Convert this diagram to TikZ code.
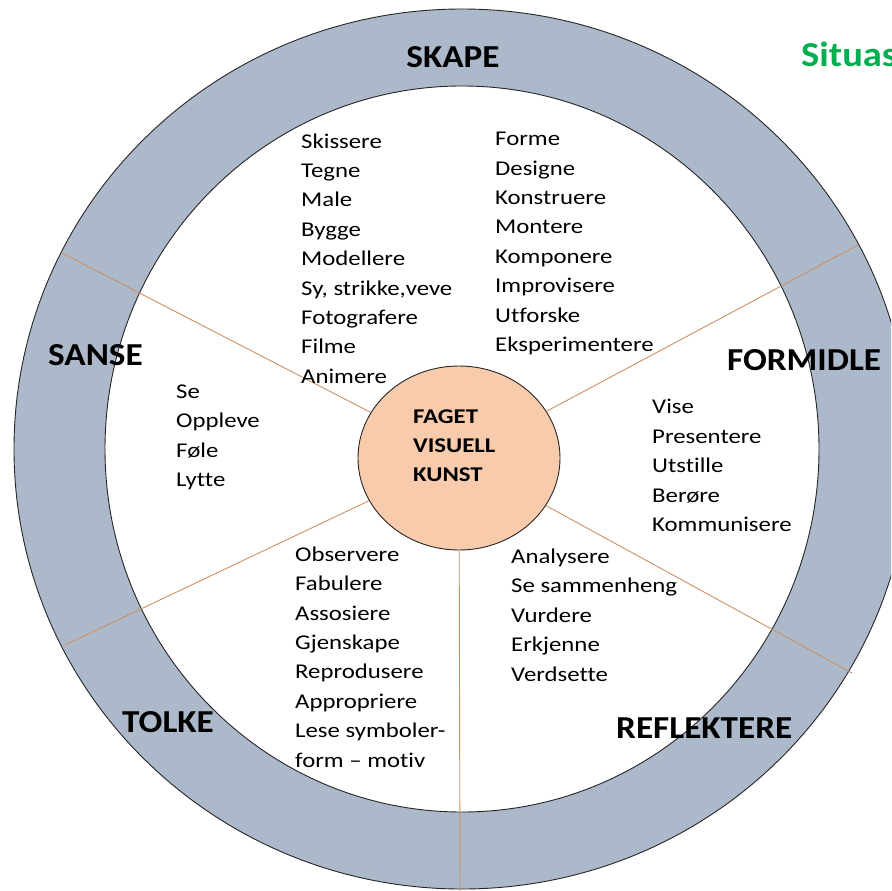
\documentclass[tikz,border=0pt]{standalone}
\usepackage{fontspec}
\setmainfont{Carlito}[FakeStretch=1.1, Ligatures=NoCommon]
\newfontfamily\listefont{Carlito}[FakeStretch=1.18, Ligatures=NoCommon]
\usetikzlibrary{shapes.geometric}
\definecolor{ringgraa}{RGB}{172,185,202}
\definecolor{fersken}{RGB}{248,203,173}
\definecolor{eikefarge}{RGB}{205,145,100}
\definecolor{situasgronn}{RGB}{0,176,80}

\begin{document}
\begin{tikzpicture}[x=1pt, y=-1pt,
    hoved/.style={font=\bfseries\fontsize{32}{36}\selectfont, inner sep=0pt},
    liste/.style={font=\listefont\fontsize{21}{29.4}\selectfont, align=left, anchor=west, inner sep=0pt},
    kant/.style={draw=black!85, line width=0.9pt},
    eike/.style={draw=eikefarge, line width=0.9pt}]
    \useasboundingbox (0,0) rectangle (891,891);
    \clip (0,0) rectangle (891,891);
    % ringen
    \fill[ringgraa, even odd rule] (462,449) ellipse [x radius=448pt, y radius=440pt]
        (462,449) ellipse [x radius=357pt, y radius=363pt];
    \draw[kant] (462,449) ellipse [x radius=448pt, y radius=440pt];
    \draw[kant] (462,449) ellipse [x radius=357pt, y radius=363pt];
    % midten
    \node[ellipse, kant, fill=fersken, minimum width=202pt, minimum height=184pt, inner sep=0pt] (fag) at (459,458) {};
    \node[font=\listefont\bfseries\fontsize{21}{29}\selectfont, align=left, anchor=west, inner sep=0pt] (fagtekst) at (413,446) {FAGET\\VISUELL\\KUNST};
    % eiker
    \coordinate (e1) at (62,253);
    \coordinate (e2) at (858,245);
    \coordinate (e3) at (65,645);
    \coordinate (e4) at (852,673);
    \coordinate (e5) at (460,891);
    \draw[eike] (fag) -- (e1);
    \draw[eike] (fag) -- (e2);
    \draw[eike] (fag) -- (e3);
    \draw[eike] (fag) -- (e4);
    \draw[eike] (fag) -- (e5);
    % overskrifter
    \node[hoved] (skape) at (453,57) {SKAPE};
    \node[hoved, anchor=west] (sanse) at (48,355) {SANSE};
    \node[hoved, anchor=west] (formidle) at (727,360) {FORMIDLE};
    \node[hoved, anchor=west] (tolke) at (122,722) {TOLKE};
    \node[hoved, anchor=west] (reflektere) at (616,728) {REFLEKTERE};
    \node[hoved, anchor=west, text=situasgronn, font=\bfseries\fontsize{35}{40}\selectfont] (situas) at (801,54) {Situas};
    % lister
    \node[liste] (skapeA) at (301,258.5) {Skissere\\Tegne\\Male\\Bygge\\Modellere\\Sy, strikke,veve\\Fotografere\\Filme\\Animere};
    \node[liste] (skapeB) at (495,243.5) {Forme\\Designe\\Konstruere\\Montere\\Komponere\\Improvisere\\Utforske\\Eksperimentere};
    \node[liste] (sanseliste) at (176,437.5) {Se\\Oppleve\\Føle\\Lytte};
    \node[liste] (formidleliste) at (652,465.5) {Vise\\Presentere\\Utstille\\Berøre\\Kommunisere};
    \node[liste] (tolkeliste) at (295,657) {Observere\\Fabulere\\Assosiere\\Gjenskape\\Reprodusere\\Appropriere\\Lese symboler-\\form – motiv};
    \node[liste] (reflektereliste) at (511,615) {Analysere\\Se sammenheng\\Vurdere\\Erkjenne\\Verdsette};
\end{tikzpicture}
\end{document}
